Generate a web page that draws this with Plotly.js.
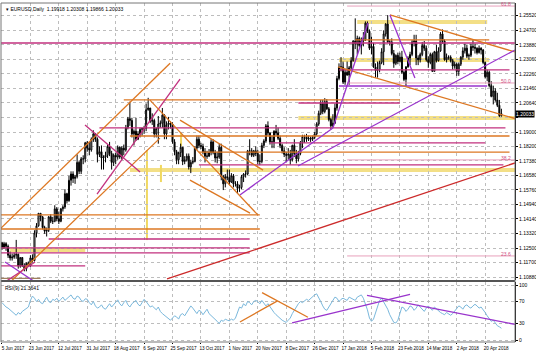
<!DOCTYPE html>
<html><head><meta charset="utf-8">
<script src="https://cdn.plot.ly/plotly-3.0.1.min.js"></script>
<style>html,body{margin:0;padding:0;background:#fff}#chart{width:536px;height:358px}</style>
</head><body><div id="chart"></div>
<script>
// ---- DATA ----
const opens = [
1.1280,1.1255,1.1275,1.1260,1.1210,1.1195,1.1200,1.1210,1.1215,1.1150,1.1197,1.1150,1.1135,1.1165,
1.1150,1.1195,1.1180,1.1335,1.1375,1.1445,1.1425,1.1365,1.1345,1.1350,1.1425,1.1400,1.1400,1.1470,
1.1415,1.1400,1.1470,1.1480,1.1555,1.1515,1.1630,1.1665,1.1640,1.1650,1.1730,1.1680,1.1750,1.1750,
1.1840,1.1810,1.1800,1.1860,1.1890,1.1860,1.1775,1.1790,1.1755,1.1760,1.1770,1.1820,1.1780,1.1730,
1.1770,1.1760,1.1815,1.1760,1.1810,1.1800,1.1925,1.1975,1.1965,1.1890,1.1905,1.1860,1.1890,1.1915,
1.1920,1.1920,1.2025,1.2035,1.1960,1.1965,1.1890,1.1920,1.1945,1.1950,1.1995,1.1890,1.1940,1.1950,
1.1945,1.1845,1.1790,1.1745,1.1785,1.1815,1.1735,1.1745,1.1765,1.1705,1.1730,1.1735,1.1810,1.1860,
1.1825,1.1820,1.1790,1.1765,1.1765,1.1785,1.1845,1.1785,1.1755,1.1760,1.1815,1.1650,1.1610,1.1650,
1.1645,1.1620,1.1655,1.1610,1.1610,1.1585,1.1590,1.1650,1.1665,1.1665,1.1795,1.1795,1.1770,1.1795,
1.1780,1.1735,1.1735,1.1825,1.1850,1.1935,1.1895,1.1845,1.1845,1.1905,1.1895,1.1865,1.1825,1.1795,
1.1775,1.1770,1.1775,1.1745,1.1825,1.1780,1.1750,1.1780,1.1840,1.1875,1.1875,1.1860,1.1865,1.1860,
1.1870,1.1890,1.1945,1.2005,1.2060,1.2015,1.2070,1.2030,1.1970,1.1935,1.1950,1.2035,1.2200,1.2265,
1.2265,1.2180,1.2235,1.2220,1.2260,1.2300,1.2410,1.2395,1.2425,1.2385,1.2410,1.2415,1.2510,1.2465,
1.2370,1.2380,1.2265,1.2245,1.2250,1.2290,1.2350,1.2450,1.2505,1.2405,1.2405,1.2340,1.2285,1.2330,
1.2295,1.2320,1.2235,1.2195,1.2265,1.2315,1.2335,1.2405,1.2410,1.2315,1.2305,1.2335,1.2385,1.2370,
1.2305,1.2290,1.2335,1.2240,1.2350,1.2300,1.2355,1.2450,1.2410,1.2305,1.2320,1.2320,1.2300,1.2270,
1.2280,1.2240,1.2280,1.2320,1.2355,1.2370,1.2325,1.2330,1.2380,1.2375,1.2370,1.2345,1.2370,1.2360,
1.2290,1.2210,1.2235,1.2160,1.2100,1.2130,1.2080,1.2050,1.19918];
const highs = [
1.1285,1.1285,1.1283,1.1270,1.1230,1.1220,1.1225,1.1296,1.1220,1.1200,1.1200,1.1165,1.1170,1.1175,
1.1210,1.1215,1.1350,1.1390,1.1445,1.1445,1.1430,1.1375,1.1365,1.1430,1.1440,1.1425,1.1490,1.1480,
1.1455,1.1475,1.1490,1.1580,1.1560,1.1655,1.1680,1.1680,1.1660,1.1775,1.1740,1.1760,1.1770,1.1845,
1.1850,1.1845,1.1870,1.1910,1.1895,1.1870,1.1820,1.1825,1.1770,1.1790,1.1830,1.1845,1.1795,1.1780,
1.1785,1.1825,1.1820,1.1820,1.1830,1.1940,1.1985,1.2070,1.1980,1.1915,1.1980,1.1905,1.1925,1.1925,
1.1935,1.2060,1.2092,1.2035,1.2005,1.1975,1.1925,1.1990,1.1965,1.2035,1.2000,1.1960,1.1985,1.1960,
1.1955,1.1860,1.1800,1.1790,1.1835,1.1815,1.1765,1.1780,1.1780,1.1745,1.1760,1.1820,1.1880,1.1880,
1.1840,1.1835,1.1810,1.1795,1.1805,1.1860,1.1860,1.1800,1.1790,1.1835,1.1835,1.1660,1.1665,1.1690,
1.1690,1.1670,1.1665,1.1625,1.1625,1.1605,1.1660,1.1670,1.1685,1.1800,1.1860,1.1810,1.1800,1.1820,
1.1800,1.1775,1.1840,1.1860,1.1945,1.1960,1.1900,1.1880,1.1910,1.1940,1.1925,1.1880,1.1835,1.1815,
1.1790,1.1810,1.1800,1.1830,1.1860,1.1800,1.1795,1.1850,1.1885,1.1885,1.1890,1.1880,1.1875,1.1880,
1.1900,1.1955,1.2020,1.2080,1.2080,1.2090,1.2085,1.2040,1.1980,1.2000,1.2060,1.2215,1.2285,1.2320,
1.2295,1.2255,1.2295,1.2270,1.2320,1.2415,1.2537,1.2440,1.2435,1.2430,1.2460,1.2520,1.2520,1.2475,
1.2435,1.2400,1.2285,1.2295,1.2300,1.2370,1.2470,1.2510,1.2555,1.2415,1.2425,1.2360,1.2335,1.2345,
1.2345,1.2355,1.2245,1.2270,1.2325,1.2350,1.2415,1.2445,1.2445,1.2330,1.2345,1.2405,1.2410,1.2385,
1.2325,1.2345,1.2345,1.2355,1.2390,1.2375,1.2460,1.2475,1.2420,1.2340,1.2330,1.2330,1.2310,1.2295,
1.2290,1.2290,1.2325,1.2375,1.2395,1.2390,1.2340,1.2395,1.2415,1.2395,1.2375,1.2385,1.2375,1.2365,
1.2295,1.2250,1.2245,1.2185,1.2160,1.2145,1.2120,1.2080,1.20308];
const lows = [
1.1240,1.1245,1.1235,1.1195,1.1180,1.1180,1.1190,1.1190,1.1135,1.1140,1.1145,1.1120,1.1120,1.1145,
1.1145,1.1170,1.1175,1.1310,1.1370,1.1400,1.1355,1.1330,1.1315,1.1340,1.1390,1.1385,1.1395,1.1400,
1.1385,1.1395,1.1455,1.1470,1.1500,1.1510,1.1600,1.1615,1.1610,1.1640,1.1665,1.1665,1.1720,1.1730,
1.1790,1.1770,1.1790,1.1845,1.1845,1.1730,1.1760,1.1690,1.1690,1.1730,1.1755,1.1765,1.1690,1.1710,
1.1720,1.1745,1.1750,1.1745,1.1770,1.1790,1.1915,1.1935,1.1870,1.1825,1.1850,1.1855,1.1870,1.1880,
1.1890,1.1905,1.2020,1.1950,1.1940,1.1870,1.1870,1.1835,1.1925,1.1925,1.1860,1.1860,1.1915,1.1920,
1.1835,1.1770,1.1720,1.1720,1.1760,1.1715,1.1720,1.1735,1.1690,1.1670,1.1720,1.1730,1.1800,1.1810,
1.1805,1.1775,1.1730,1.1750,1.1760,1.1770,1.1775,1.1730,1.1725,1.1750,1.1630,1.1575,1.1590,1.1630,
1.1605,1.1615,1.1590,1.1595,1.1555,1.1565,1.1580,1.1620,1.1645,1.1660,1.1770,1.1760,1.1760,1.1765,
1.1720,1.1715,1.1725,1.1810,1.1840,1.1880,1.1830,1.1810,1.1810,1.1880,1.1855,1.1810,1.1780,1.1760,
1.1730,1.1745,1.1717,1.1735,1.1760,1.1725,1.1735,1.1770,1.1810,1.1840,1.1845,1.1850,1.1845,1.1850,
1.1860,1.1880,1.1935,1.1995,1.2000,1.2005,1.2025,1.1960,1.1915,1.1925,1.1945,1.2020,1.2190,1.2240,
1.2170,1.2165,1.2215,1.2165,1.2250,1.2295,1.2365,1.2335,1.2375,1.2335,1.2380,1.2410,1.2455,1.2360,
1.2335,1.2260,1.2205,1.2205,1.2235,1.2280,1.2275,1.2435,1.2400,1.2385,1.2330,1.2260,1.2275,1.2280,
1.2290,1.2225,1.2185,1.2155,1.2260,1.2275,1.2325,1.2380,1.2275,1.2275,1.2290,1.2325,1.2355,1.2295,
1.2260,1.2280,1.2240,1.2240,1.2290,1.2295,1.2350,1.2395,1.2300,1.2290,1.2305,1.2290,1.2250,1.2255,
1.2215,1.2215,1.2270,1.2305,1.2340,1.2315,1.2305,1.2320,1.2355,1.2340,1.2335,1.2340,1.2335,1.2280,
1.2200,1.2185,1.2150,1.2095,1.2055,1.2070,1.2040,1.1985,1.19866];
const closes = [
1.1255,1.1275,1.1260,1.1210,1.1195,1.1200,1.1210,1.1215,1.1150,1.1197,1.1150,1.1135,1.1165,1.1150,
1.1195,1.1180,1.1335,1.1375,1.1445,1.1425,1.1365,1.1345,1.1350,1.1425,1.1400,1.1400,1.1470,1.1415,
1.1400,1.1470,1.1480,1.1555,1.1515,1.1630,1.1665,1.1640,1.1650,1.1730,1.1680,1.1750,1.1750,1.1840,
1.1810,1.1800,1.1860,1.1890,1.1860,1.1775,1.1790,1.1755,1.1760,1.1770,1.1820,1.1780,1.1730,1.1770,
1.1760,1.1815,1.1760,1.1810,1.1800,1.1925,1.1975,1.1965,1.1890,1.1905,1.1860,1.1890,1.1915,1.1920,
1.1920,1.2025,1.2035,1.1960,1.1965,1.1890,1.1920,1.1945,1.1950,1.1995,1.1890,1.1940,1.1950,1.1945,
1.1845,1.1790,1.1745,1.1785,1.1815,1.1735,1.1745,1.1765,1.1705,1.1730,1.1735,1.1810,1.1860,1.1825,
1.1820,1.1790,1.1765,1.1765,1.1785,1.1845,1.1785,1.1755,1.1760,1.1815,1.1650,1.1610,1.1650,1.1645,
1.1620,1.1655,1.1610,1.1610,1.1585,1.1590,1.1650,1.1665,1.1665,1.1795,1.1795,1.1770,1.1795,1.1780,
1.1735,1.1735,1.1825,1.1850,1.1935,1.1895,1.1845,1.1845,1.1905,1.1895,1.1865,1.1825,1.1795,1.1775,
1.1770,1.1775,1.1745,1.1825,1.1780,1.1750,1.1780,1.1840,1.1875,1.1875,1.1860,1.1865,1.1860,1.1870,
1.1890,1.1945,1.2005,1.2060,1.2015,1.2070,1.2030,1.1970,1.1935,1.1950,1.2035,1.2200,1.2265,1.2265,
1.2180,1.2235,1.2220,1.2260,1.2300,1.2410,1.2395,1.2425,1.2385,1.2410,1.2415,1.2510,1.2465,1.2370,
1.2380,1.2265,1.2245,1.2250,1.2290,1.2350,1.2450,1.2505,1.2405,1.2405,1.2340,1.2285,1.2330,1.2295,
1.2320,1.2235,1.2195,1.2265,1.2315,1.2335,1.2405,1.2410,1.2315,1.2305,1.2335,1.2385,1.2370,1.2305,
1.2290,1.2335,1.2240,1.2350,1.2300,1.2355,1.2450,1.2410,1.2305,1.2320,1.2320,1.2300,1.2270,1.2280,
1.2240,1.2280,1.2320,1.2355,1.2370,1.2325,1.2330,1.2380,1.2375,1.2370,1.2345,1.2370,1.2360,1.2290,
1.2210,1.2235,1.2160,1.2100,1.2130,1.2080,1.2050,1.1992,1.20033];
const rsiValues = [
68,64,60,58,55,52,48,45,50,47,52,55,58,60,
72,80,76,70,74,68,66,72,78,70,68,74,72,76,
70,74,78,72,76,80,82,76,74,80,78,72,70,75,
74,68,64,70,62,58,60,64,58,56,62,66,60,64,
70,73,66,62,68,72,64,60,66,70,72,65,62,68,
74,70,66,60,62,58,55,60,52,48,45,42,38,36,
40,44,42,38,46,48,44,50,56,62,58,52,48,54,
52,46,50,56,48,44,42,38,34,30,36,34,38,36,
35,38,36,40,52,60,58,66,62,70,68,64,70,72,
70,66,72,68,62,66,60,56,50,46,42,40,36,34,
32,36,40,48,55,60,66,70,68,72,74,72,76,78,
82,84,78,70,62,56,54,60,66,72,78,76,70,74,
76,74,72,78,76,74,72,78,80,82,76,66,55,40,
34,38,50,62,72,76,70,64,56,46,38,32,31,36,
48,60,58,52,56,62,60,54,58,64,60,56,52,58,
62,58,54,60,56,52,50,48,46,50,47,45,48,52,
58,62,60,56,62,64,60,58,62,65,62,58,60,56,
50,44,40,34,36,30,26,24,21.3641];
const dateTickIdx = [0,14,28,42,56,70,84,98,112,126,140,154,168,182,196,210,224,238];
const dateTickText = ["5 Jun 2017","23 Jun 2017","12 Jul 2017","31 Jul 2017","18 Aug 2017","6 Sep 2017","25 Sep 2017","13 Oct 2017","1 Nov 2017","20 Nov 2017","8 Dec 2017","26 Dec 2017","17 Jan 2018","5 Feb 2018","23 Feb 2018","14 Mar 2018","2 Apr 2018","20 Apr 2018"];
const priceTicks = [1.25520,1.24700,1.23880,1.23060,1.22260,1.21460,1.20640,1.19820,1.19000,1.18200,1.17380,1.16580,1.15760,1.14940,1.14140,1.13320,1.12500,1.11700,1.10880];
const priceTickText = ["1.25520","1.24700","1.23880","1.23060","1.22260","1.21460","1.20640","","1.19000","1.18200","1.17380","1.16580","1.15760","1.14940","1.14140","1.13320","1.12500","1.11700","1.10880"];
const rsiTicks = [0,30,70,100];
const fibLevels = [1.2606,1.2175,1.1744,1.1206];
const fibNames = ["61.8","50.0","38.2","23.6"];
// horizontal levels: price, from bar, to bar
const hPrice = [1.2399,1.2416,1.2517,1.2304,1.2248,1.2158,1.2080,1.2063,1.1979,1.1923,1.1878,1.1839,1.1788,1.1716,1.1688,1.1436,1.1357,1.1301,1.1251,1.1240,1.1223,1.1150,1.1080];
const hFrom  = [-1,174,175,166,166,166,60,146,146,48,63,132,97,97,63,-1,-1,23,-1,4,-1,-1,-1];
const hTo    = [253,240,239,240,250,239,196,196,253,248,250,238,250,247,253,127,127,122,122,41,122,41,19];
// trend lines: bar0, price0, bar1, price1
const tX0 = [-1, 4, 46.8, 81.3, 191.1, 165.5, 145.8, 163, 191.1, 117.2, 72.9, 87.7, 92.6, 40.9, 1.5, 1.5];
const tP0 = [1.1356, 1.1059, 1.1552, 1.1077, 1.2556, 1.2265, 1.1710, 1.1923, 1.2556, 1.1548, 1.2079, 1.1967, 1.1631, 1.1939, 1.1172, 1.1060];
const tX1 = [82.8, 77.8, 87.7, 252.7, 252.7, 252.7, 252.7, 180.3, 203.4, 163, 126.1, 128.6, 122.2, 68, 16.3, 16.3];
const tP1 = [1.2286, 1.1866, 1.2196, 1.1727, 1.2349, 1.1976, 1.2360, 1.2511, 1.2203, 1.1923, 1.1435, 1.1687, 1.1446, 1.1676, 1.1060, 1.1172];
// vertical marker segments: bar, price from, price to
const vX = [71.4, 78.3, 88.2];
const vP0 = [1.1799, 1.1716, 1.1895];
const vP1 = [1.1295, 1.1620, 1.1816];
// RSI trend lines
const rX0 = [117.2, 128.1, 142.9, 179.8];
const rV0 = [32.8, 86.2, 31, 81];
const rX1 = [135.5, 150.7, 201, 252.7];
const rV1 = [70.7, 41.4, 82.8, 28.5];

// ---- STYLES ----
const hColors = ['#c2307e','#dd7722','band','band','#c2307e','#9933cc','#dd7722','#c2307e','band','#c2307e','#dd7722','#c2307e','#dd7722','#c2307e','band','#dd7722','#dd7722','#c2307e','#c2307e','band','#c2307e','#c2307e','#a08060'];
const tColors = ['#dd7722','#dd7722','#c2307e','#cc2a2a','#dd7722','#dd7722','#9933cc','#9933cc','#9933cc','#9933cc','#dd7722','#dd7722','#dd7722','#c2307e','#9933cc','#c2307e'];
const rColors = ['#dd7722','#dd7722','#9933cc','#9933cc'];

const idx = closes.map((_, i) => i);
const shapes = [];
hPrice.forEach((p, k) => {
  if (hColors[k] === 'band') {
    shapes.push({type:'line', xref:'x', yref:'y', x0:hFrom[k], x1:hTo[k], y0:p, y1:p, line:{color:'#f3df86', width:4}, layer:'below'});
  } else {
    shapes.push({type:'line', xref:'x', yref:'y', x0:hFrom[k], x1:hTo[k], y0:p, y1:p, line:{color:hColors[k], width:1.3}});
  }
});
vX.forEach((x, k) => shapes.push({type:'line', xref:'x', yref:'y', x0:x, x1:x, y0:vP0[k], y1:vP1[k], line:{color:'#f0d860', width:2}, layer:'below'}));
fibLevels.forEach(p => shapes.push({type:'line', xref:'x', yref:'y', x0:170, x1:253, y0:p, y1:p, line:{color:'#e8a0bc', width:1}}));
tX0.forEach((x, k) => shapes.push({type:'line', xref:'x', yref:'y', x0:x, y0:tP0[k], x1:tX1[k], y1:tP1[k], line:{color:tColors[k], width:1.3}}));
rX0.forEach((x, k) => shapes.push({type:'line', xref:'x', yref:'y2', x0:x, y0:rV0[k], x1:rX1[k], y1:rV1[k], line:{color:rColors[k], width:1.3}}));
// panel separator and frame
shapes.push({type:'line', xref:'paper', yref:'paper', x0:0, x1:1, y0:0.18, y1:0.18, line:{color:'#555', width:2}});
shapes.push({type:'rect', xref:'paper', yref:'paper', x0:0, x1:1, y0:0, y1:1, line:{color:'#777', width:1}});

const fnt = 'Liberation Sans, Arial';
const annotations = [
  {xref:'paper', yref:'paper', x:0.006, y:0.998, xanchor:'left', yanchor:'top', showarrow:false, text:'▾ EURUSD,Daily  1.19918 1.20308 1.19866 1.20033', font:{size:5, color:'#000', family:fnt}},
  {xref:'paper', yref:'y2', x:0.004, y:104, xanchor:'left', yanchor:'top', showarrow:false, text:'RSI(9) 21.3641', font:{size:5, color:'#000', family:fnt}},
  {xref:'paper', yref:'y', x:1, y:closes[closes.length-1], xanchor:'left', yanchor:'middle', showarrow:false, text:'1.20033', bgcolor:'#000', font:{size:5, color:'#fff', family:fnt}, borderpad:0}
];
fibLevels.forEach((p, k) => annotations.push({xref:'x', yref:'y', x:251.5, y:p, xanchor:'right', yanchor:'middle', yshift:2, showarrow:false, text:fibNames[k], font:{size:5, color:'#d05080', family:fnt}}));

const data = [
  {type:'candlestick', x:idx, open:opens, high:highs, low:lows, close:closes, xaxis:'x', yaxis:'y',
   increasing:{line:{color:'#000', width:1}, fillcolor:'#fff'}, decreasing:{line:{color:'#000', width:1}, fillcolor:'#000'},
   whiskerwidth:0, hoverinfo:'skip', showlegend:false},
  {type:'scatter', mode:'lines', x:idx, y:rsiValues, xaxis:'x', yaxis:'y2', line:{color:'#7ab8dc', width:1}, hoverinfo:'skip', showlegend:false}
];

const gridStyle = {showgrid:true, gridcolor:'#bdbdbd', griddash:'dot', gridwidth:1, zeroline:false};
const layout = {
  width:536, height:358, margin:{l:1, r:21, t:3, b:16},
  paper_bgcolor:'#fff', plot_bgcolor:'#fff', showlegend:false,
  font:{family:fnt, size:5, color:'#000'},
  xaxis: Object.assign({}, gridStyle, {range:[-0.49, 252.7], anchor:'y2', tickmode:'array', tickvals:dateTickIdx, ticktext:dateTickText, tickangle:0, ticklabelshift:11, ticks:'outside', ticklen:1, tickcolor:'#000', tickfont:{size:4.6}, rangeslider:{visible:false}, showline:false, automargin:false}),
  yaxis: Object.assign({}, gridStyle, {domain:[0.1829, 1], range:[1.10713, 1.26231], side:'right', tickmode:'array', tickvals:priceTicks, ticktext:priceTickText, ticks:'outside', ticklen:2, tickcolor:'#000', tickfont:{size:5}, showline:true, linecolor:'#000', linewidth:1}),
  yaxis2: Object.assign({}, gridStyle, {domain:[0, 0.177], range:[-3.6, 105.5], side:'right', tickmode:'array', tickvals:rsiTicks, ticktext:rsiTicks.map(String), ticks:'outside', ticklen:2, tickcolor:'#000', tickfont:{size:5}, showline:true, linecolor:'#000', linewidth:1}),
  shapes: shapes, annotations: annotations
};
Plotly.newPlot('chart', data, layout, {staticPlot:true, displayModeBar:false});
</script></body></html>
